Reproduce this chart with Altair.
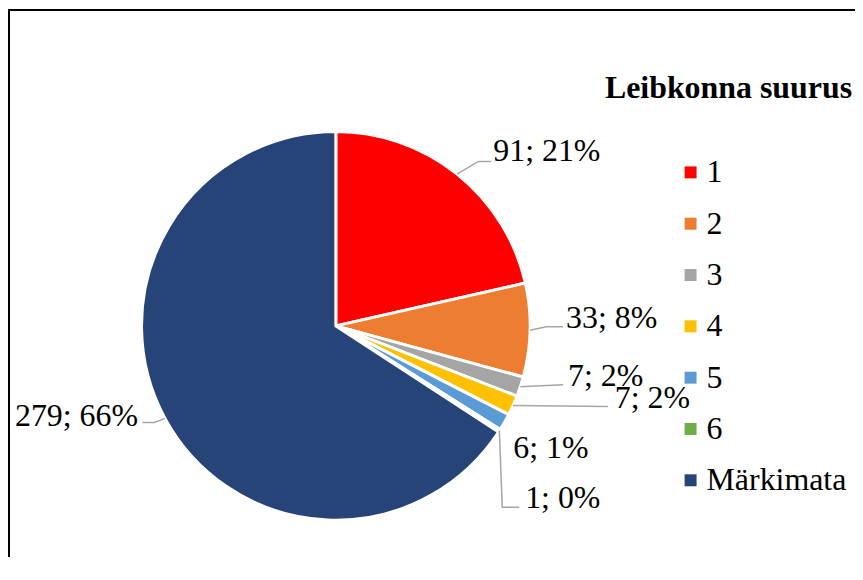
import math
import altair as alt
import pandas as pd

# ---- data ----
CATEGORIES = ["1", "2", "3", "4", "5", "6", "Märkimata"]
VALUES = [91, 33, 7, 7, 6, 1, 279]
PERCENTS = ["21%", "8%", "2%", "2%", "1%", "0%", "66%"]
COLORS = ["#FF0000", "#ED7D31", "#A5A5A5", "#FFC000", "#5B9BD5", "#70AD47", "#264478"]
TITLE = "Leibkonna suurus"

# ---- layout (page pixels) ----
MARGIN = 8
W, H = 850, 550
CX, CY, R = 337, 326, 195
FONT = "Liberation Serif"
FS = 32
# left edge / vertical centre of each data label (hand-placed in the original)
LABEL_POS = {
    "1": (495, 151), "2": (568, 318), "3": (570, 376), "4": (617, 398),
    "5": (515, 449), "6": (527, 499), "Märkimata": (15, 417),
}
# leader line bends (after the rim point)
LEADER = {
    "1": [(480, 161), (493, 161)],
    "2": [(548, 327), (565, 327)],
    "3": [(565, 385)],
    "4": [(610, 407)],
    "6": [(504, 508), (521, 508)],
    "Märkimata": [(155, 423), (143, 423)],
}

total = sum(VALUES)
rows, lines = [], []
cum = 0
for i, (c, v, p) in enumerate(zip(CATEGORIES, VALUES, PERCENTS)):
    mid = (cum + v / 2) / total * 2 * math.pi
    cum += v
    lx, ly = LABEL_POS[c]
    rows.append({"cat": c, "value": v, "idx": i, "label": f"{v}; {p}", "lx": lx, "ly": ly})
    if c in LEADER:
        pts = [(CX + R * math.sin(mid), CY - R * math.cos(mid))] + LEADER[c]
        for k, (x, y) in enumerate(pts):
            lines.append({"cat": c, "k": k, "x": x, "y": y})

df = pd.DataFrame(rows)
ldf = pd.DataFrame(lines)

xs = alt.Scale(domain=[MARGIN, MARGIN + W], nice=False, zero=False)
ys = alt.Scale(domain=[MARGIN, MARGIN + H], reverse=True, nice=False, zero=False)

pie = alt.Chart(df).mark_arc(radius=R, stroke="white", strokeWidth=3).encode(
    theta=alt.Theta("value:Q", stack=True),
    order=alt.Order("idx:Q"),
    color=alt.Color(
        "cat:N",
        scale=alt.Scale(domain=CATEGORIES, range=COLORS),
        legend=alt.Legend(
            title=None, orient="none", legendX=669, legendY=148,
            symbolType="square", symbolSize=144, symbolStrokeWidth=0,
            labelFont=FONT, labelFontSize=FS, labelColor="black",
            labelOffset=0, rowPadding=19.5, padding=0,
        ),
    ),
    x=alt.value(CX - MARGIN),
    y=alt.value(CY - MARGIN),
)

leaders = alt.Chart(ldf).mark_line(color="#A6A6A6", strokeWidth=1.5).encode(
    x=alt.X("x:Q", scale=xs, axis=None),
    y=alt.Y("y:Q", scale=ys, axis=None),
    detail="cat:N",
    order="k:Q",
)

labels = alt.Chart(df).mark_text(
    align="left", baseline="middle", font=FONT, fontSize=FS, color="black"
).encode(
    x=alt.X("lx:Q", scale=xs, axis=None),
    y=alt.Y("ly:Q", scale=ys, axis=None),
    text="label:N",
)

tdf = pd.DataFrame({"t": [TITLE]})
title = alt.Chart(tdf).mark_text(
    align="left", baseline="alphabetic", font=FONT, fontSize=FS, fontWeight="bold", color="black"
).encode(x=alt.value(607 - MARGIN), y=alt.value(97 - MARGIN), text="t:N")

frame_top = alt.Chart(tdf).mark_rule(color="black", strokeWidth=2).encode(
    x=alt.value(0), x2=alt.value(W), y=alt.value(1)
)
frame_left = alt.Chart(tdf).mark_rule(color="black", strokeWidth=2).encode(
    x=alt.value(1), y=alt.value(0), y2=alt.value(H)
)

chart = alt.layer(frame_top, frame_left, pie, leaders, labels, title).properties(
    width=W, height=H, padding=0, autosize=alt.AutoSizeParams(type="none")
).configure_view(stroke=None)

chart.save("out.html", embed_options={"renderer": "svg", "actions": False})
